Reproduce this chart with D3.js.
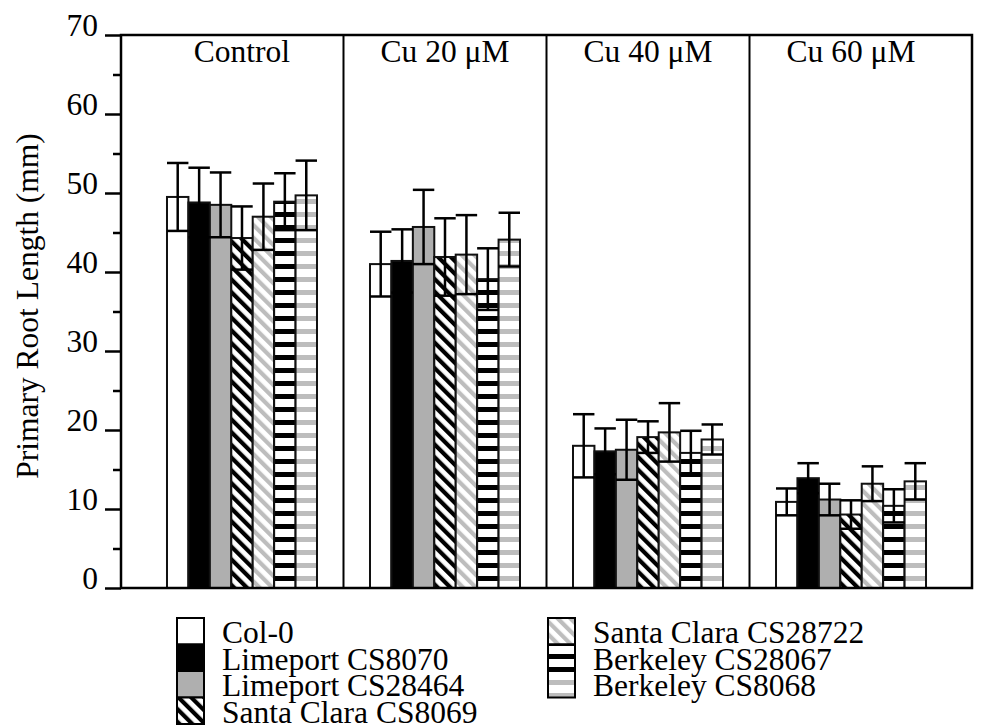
<!DOCTYPE html>
<html>
<head>
<meta charset="utf-8">
<script src="https://cdn.jsdelivr.net/npm/d3@7"></script>
<style>
  body { margin: 0; background: #fff; }
</style>
</head>
<body>
<div id="chart"></div>
<script>
// groups (treatments) and strains
const groups = ["Control", "Cu 20 μM", "Cu 40 μM", "Cu 60 μM"]
const strains = ["Col-0", "Limeport CS8070", "Limeport CS28464", "Santa Clara CS8069",
  "Santa Clara CS28722", "Berkeley CS28067", "Berkeley CS8068"]

// mean primary root length (mm), one array per group, in strain order
const controlMean = [49.5, 48.8, 48.5, 44.3, 47.0, 48.9, 49.7]
const cu20Mean    = [41.0, 41.4, 45.7, 41.9, 42.2, 39.1, 44.1]
const cu40Mean    = [18.0, 17.3, 17.5, 19.1, 19.7, 17.1, 18.8]
const cu60Mean    = [10.9, 13.9, 11.2, 9.3, 13.2, 10.4, 13.5]

// standard deviations
const controlSd = [4.3, 4.4, 4.1, 4.0, 4.2, 3.6, 4.4]
const cu20Sd    = [4.1, 4.0, 4.7, 4.9, 5.0, 3.9, 3.4]
const cu40Sd    = [4.0, 2.9, 3.8, 2.0, 3.7, 2.8, 1.9]
const cu60Sd    = [1.7, 1.9, 2.0, 1.8, 2.2, 2.1, 2.3]

const yTicks = [0, 10, 20, 30, 40, 50, 60, 70]
const yMinorTicks = [5, 15, 25, 35, 45, 55, 65]

const means = [controlMean, cu20Mean, cu40Mean, cu60Mean]
const sds = [controlSd, cu20Sd, cu40Sd, cu60Sd]

const data = []
groups.forEach((g, gi) => {
  strains.forEach((s, si) => {
    data.push({ group: g, strain: s, mean: means[gi][si], sd: sds[gi][si] })
  })
})

const FONT = "Liberation Serif"
const FS = 31.5

// plot frame
const W = 981, H = 728
const plotLeft = 121, plotRight = 972, plotTop = 35, plotBottom = 588

const svg = d3.select("#chart")
  .append("svg")
  .attr("width", W)
  .attr("height", H)
  .attr("font-family", FONT)

// fill patterns
const defs = svg.append("defs")
const diag = (id, color) => {
  const p = defs.append("pattern")
    .attr("id", id)
    .attr("patternUnits", "userSpaceOnUse")
    .attr("width", 9).attr("height", 9)
    .attr("patternTransform", "rotate(-45)")
  p.append("rect").attr("width", 9).attr("height", 9).attr("fill", "#fff")
  p.append("rect").attr("width", 4.2).attr("height", 9).attr("fill", color)
}
const horiz = (id, color) => {
  const p = defs.append("pattern")
    .attr("id", id)
    .attr("patternUnits", "userSpaceOnUse")
    .attr("width", 13).attr("height", 13)
  p.append("rect").attr("width", 13).attr("height", 13).attr("fill", "#fff")
  p.append("rect").attr("y", 4).attr("width", 13).attr("height", 5).attr("fill", color)
}
diag("diag-black", "#000")
diag("diag-grey", "#bdbdbd")
horiz("hz-black", "#000")
horiz("hz-grey", "#bdbdbd")

const fills = ["#fff", "#000", "#afafaf", "url(#diag-black)", "url(#diag-grey)", "url(#hz-black)", "url(#hz-grey)"]
const color = d3.scaleOrdinal().domain(strains).range(fills)

// scales
const x0 = d3.scaleBand()
  .domain(groups)
  .range([plotLeft, plotRight])
  .paddingInner(0)
  .paddingOuter(0.096)

const groupWidth = 150
const x1 = d3.scaleBand()
  .domain(strains)
  .range([(x0.bandwidth() - groupWidth) / 2, (x0.bandwidth() + groupWidth) / 2])

const y = d3.scaleLinear()
  .domain([0, 70])
  .range([plotBottom, plotTop])

// bars
svg.append("g")
  .selectAll("rect")
  .data(data)
  .join("rect")
  .attr("x", d => x0(d.group) + x1(d.strain))
  .attr("y", d => y(d.mean))
  .attr("width", x1.bandwidth())
  .attr("height", d => y(0) - y(d.mean))
  .attr("fill", d => color(d.strain))
  .attr("stroke", "#111")
  .attr("stroke-width", 2)

// error bars (mean ± sd, caps as wide as the bar)
const err = svg.append("g").attr("stroke", "#000").attr("stroke-width", 2.5)
data.forEach(d => {
  const bx = x0(d.group) + x1(d.strain)
  const cx = bx + x1.bandwidth() / 2
  err.append("line")
    .attr("x1", cx).attr("x2", cx)
    .attr("y1", y(d.mean - d.sd)).attr("y2", y(d.mean + d.sd))
  err.append("line")
    .attr("x1", bx).attr("x2", bx + x1.bandwidth())
    .attr("y1", y(d.mean + d.sd)).attr("y2", y(d.mean + d.sd))
  err.append("line")
    .attr("x1", bx).attr("x2", bx + x1.bandwidth())
    .attr("y1", y(d.mean - d.sd)).attr("y2", y(d.mean - d.sd))
})

// panel dividers
svg.append("g")
  .selectAll("line")
  .data(groups.slice(1))
  .join("line")
  .attr("x1", d => x0(d)).attr("x2", d => x0(d))
  .attr("y1", plotTop).attr("y2", plotBottom)
  .attr("stroke", "#000")
  .attr("stroke-width", 2)

// frame
svg.append("rect")
  .attr("x", plotLeft).attr("y", plotTop)
  .attr("width", plotRight - plotLeft).attr("height", plotBottom - plotTop)
  .attr("fill", "none")
  .attr("stroke", "#000")
  .attr("stroke-width", 2.5)

// Y axis with major + minor ticks
svg.append("g")
  .attr("transform", `translate(${plotLeft},0)`)
  .call(d3.axisLeft(y).tickValues(yMinorTicks).tickSize(8).tickFormat(""))
  .call(g => g.select(".domain").remove())
  .call(g => g.selectAll("line").attr("stroke-width", 2.5))

svg.append("g")
  .attr("transform", `translate(${plotLeft},0)`)
  .call(d3.axisLeft(y).tickValues(yTicks).tickSize(16).tickPadding(4))
  .attr("font-family", FONT)
  .attr("font-size", FS)
  .call(g => g.select(".domain").remove())
  .call(g => g.selectAll("line").attr("stroke-width", 2.5))
  .call(g => g.selectAll("text")
    .attr("fill", "#000")
    .attr("dy", 0)
    .attr("y", 0)
    .attr("x", -23))

// y label
svg.append("text")
  .attr("transform", `translate(38, 306) rotate(-90)`)
  .attr("text-anchor", "middle")
  .attr("font-size", FS)
  .text("Primary Root Length (mm)")

// group labels
svg.append("g")
  .selectAll("text")
  .data(groups)
  .join("text")
  .attr("x", d => x0(d) + x0.bandwidth() / 2)
  .attr("y", 62)
  .attr("text-anchor", "middle")
  .attr("font-size", FS)
  .text(d => d)

// legend: two columns
const rowH = 26.5
const legendCols = [
  { x: 177, items: strains.slice(0, 4) },
  { x: 548, items: strains.slice(4) }
]
legendCols.forEach(col => {
  const lg = svg.append("g")
  col.items.forEach((s, i) => {
    lg.append("rect")
      .attr("x", col.x).attr("y", 618 + i * rowH)
      .attr("width", 27).attr("height", rowH)
      .attr("fill", color(s))
      .attr("stroke", "#000")
      .attr("stroke-width", 2)
    lg.append("text")
      .attr("x", col.x + 45).attr("y", 618 + i * rowH + 25)
      .attr("font-size", FS)
      .text(s)
  })
})
</script>
</body>
</html>
